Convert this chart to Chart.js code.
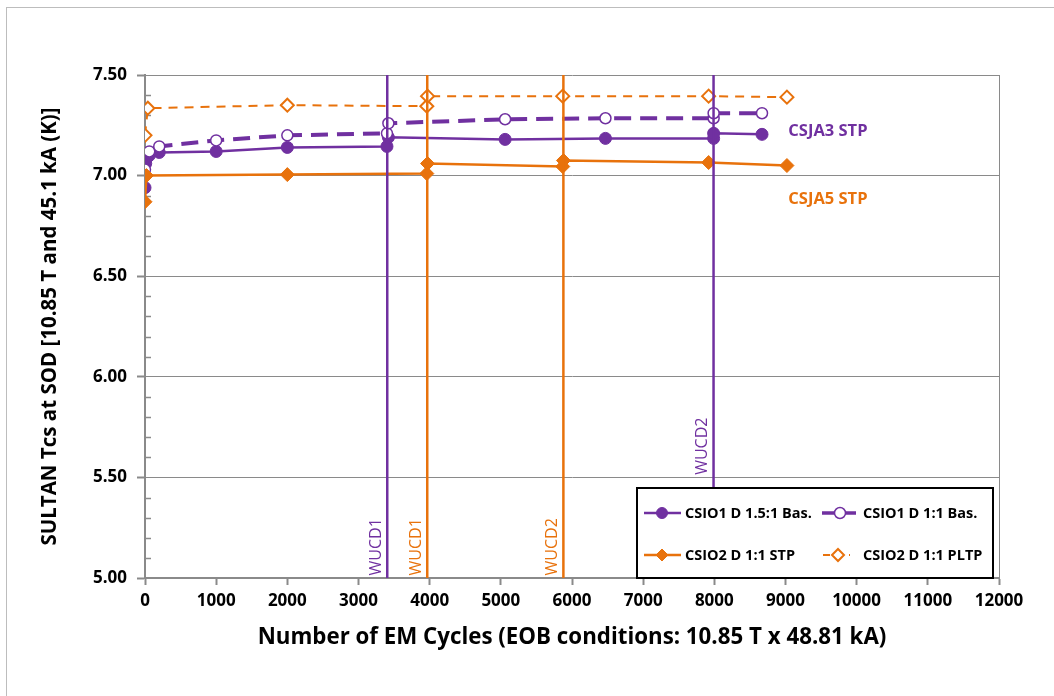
<!DOCTYPE html>
<html>
<head>
<meta charset="utf-8">
<script src="https://cdn.jsdelivr.net/npm/chart.js@4.4.1/dist/chart.umd.min.js"></script>
<style>
  html, body { margin: 0; padding: 0; background: #fff; }
  #wrap { width: 1054px; height: 696px; position: relative; }
</style>
</head>
<body>
<div id="wrap"><canvas id="myChart" width="1054" height="696"></canvas></div>
<script>
// CSIO1 D 1.5:1 Bas. (filled circles)
const csio1aCycles = [0, 10, 30, 60, 200, 1000, 2000, 3400, 3420, 5060, 6470, 7990, 7990, 8670];
const csio1aTcs = [6.94, 7.06, 7.09, 7.10, 7.115, 7.12, 7.14, 7.145, 7.19, 7.18, 7.185, 7.185, 7.21, 7.205];

// CSIO1 D 1:1 Bas. (open circles)
const csio1bCycles = [0, 60, 200, 1000, 2000, 3400, 3420, 5060, 6470, 7990, 7990, 8670];
const csio1bTcs = [7.03, 7.12, 7.145, 7.175, 7.20, 7.21, 7.26, 7.28, 7.285, 7.285, 7.31, 7.31];

// CSIO2 D 1:1 STP (filled diamonds)
const csio2aCycles = [0, 20, 2000, 3960, 3970, 5870, 5880, 7920, 9020];
const csio2aTcs = [6.87, 7.00, 7.005, 7.01, 7.06, 7.045, 7.075, 7.065, 7.05];

// CSIO2 D 1:1 PLTP (open diamonds)
const csio2bCycles = [0, 40, 2000, 3960, 3970, 5870, 7920, 9020];
const csio2bTcs = [7.20, 7.335, 7.35, 7.345, 7.395, 7.395, 7.395, 7.39];

// warm-up / cool-down markers
const wucdCycles = [3404, 3966, 5879, 7989];
const wucdNames = ['WUCD1', 'WUCD1', 'WUCD2', 'WUCD2'];
const wucdSample = ['CSIO1', 'CSIO2', 'CSIO2', 'CSIO1'];

const legendNames = ['CSIO1 D 1.5:1 Bas.', 'CSIO1 D 1:1 Bas.', 'CSIO2 D 1:1 STP', 'CSIO2 D 1:1 PLTP'];
const xTicks = [0, 1000, 2000, 3000, 4000, 5000, 6000, 7000, 8000, 9000, 10000, 11000, 12000];
const yTicks = [5.00, 5.50, 6.00, 6.50, 7.00, 7.50];

const PURPLE = '#7030A0';
const ORANGE = '#E8720C';
const AXIS = '#8a8a8a';
const FONT = '"Open Sans", Lato, sans-serif';

const toPoints = (xs, ys) => xs.map((x, i) => ({ x: x, y: ys[i] }));

const seriesSets = [
    {
        label: legendNames[0],
        data: toPoints(csio1aCycles, csio1aTcs),
        borderColor: PURPLE, backgroundColor: PURPLE,
        borderWidth: 2.5, pointStyle: 'circle', pointRadius: 6,
        pointBorderWidth: 1, pointBackgroundColor: PURPLE, order: 4
    },
    {
        label: legendNames[1],
        data: toPoints(csio1bCycles, csio1bTcs),
        borderColor: PURPLE, backgroundColor: '#fff',
        borderWidth: 4, borderDash: [17, 9], pointStyle: 'circle', pointRadius: 5.5,
        pointBorderWidth: 1.5, pointBackgroundColor: '#fff', order: 3
    },
    {
        label: legendNames[2],
        data: toPoints(csio2aCycles, csio2aTcs),
        borderColor: ORANGE, backgroundColor: ORANGE,
        borderWidth: 2.5, pointStyle: 'rectRot', pointRadius: 7,
        pointBorderWidth: 1, pointBackgroundColor: ORANGE, order: 2
    },
    {
        label: legendNames[3],
        data: toPoints(csio2bCycles, csio2bTcs),
        borderColor: ORANGE, backgroundColor: '#fff',
        borderWidth: 2, borderDash: [9, 7], pointStyle: 'rectRot', pointRadius: 6.5,
        pointBorderWidth: 2, pointBackgroundColor: '#fff', order: 1
    }
];

const wucdSets = wucdCycles.map((c, i) => ({
    label: wucdNames[i],
    data: [{ x: c, y: yTicks[0] }, { x: c, y: yTicks[yTicks.length - 1] }],
    borderColor: wucdSample[i] === 'CSIO1' ? PURPLE : ORANGE,
    borderWidth: 2.5, pointRadius: 0, order: 0
}));

// frame, minor ticks, labels and legend
const decorPlugin = {
    id: 'decor',
    beforeDraw(chart) {
        const ctx = chart.ctx;
        ctx.save();
        ctx.fillStyle = '#fff';
        ctx.fillRect(0, 0, chart.width, chart.height);
        ctx.strokeStyle = '#bdbdbd';
        ctx.lineWidth = 1;
        ctx.strokeRect(6.5, 7.5, chart.width + 10, chart.height + 10);
        ctx.restore();
    },
    beforeDatasetsDraw(chart) {
        const ctx = chart.ctx;
        const a = chart.chartArea;
        const y = chart.scales.y;
        ctx.save();
        ctx.strokeStyle = AXIS;
        ctx.lineWidth = 1;
        ctx.beginPath();
        ctx.moveTo(a.right + 0.5, a.top);
        ctx.lineTo(a.right + 0.5, a.bottom);
        ctx.stroke();
        // minor ticks every 0.1
        ctx.lineWidth = 1.5;
        for (let i = 51; i < 75; i++) {
            if (i % 5 === 0) continue;
            const py = Math.round(y.getPixelForValue(i / 10)) + 0.5;
            ctx.beginPath();
            ctx.moveTo(a.left, py);
            ctx.lineTo(a.left + 6, py);
            ctx.stroke();
        }
        ctx.restore();
    },
    afterDraw(chart) {
        const ctx = chart.ctx;
        const xs = chart.scales.x, ys = chart.scales.y;
        ctx.save();

        // WUCD labels
        ctx.font = '16px ' + FONT;
        ctx.textAlign = 'center';
        ctx.textBaseline = 'middle';
        wucdCycles.forEach((c, i) => {
            const px = xs.getPixelForValue(c) - 11;
            const py = i === 3 ? ys.getPixelForValue(5.655) : ys.getPixelForValue(5.155);
            ctx.save();
            ctx.translate(px, py);
            ctx.rotate(-Math.PI / 2);
            ctx.fillStyle = wucdSample[i] === 'CSIO1' ? PURPLE : ORANGE;
            ctx.fillText(wucdNames[i], 0, 0);
            ctx.restore();
        });

        // sample annotations
        ctx.font = 'bold 16.5px ' + FONT;
        ctx.textAlign = 'left';
        ctx.fillStyle = PURPLE;
        ctx.fillText('CSJA3 STP', xs.getPixelForValue(9040), ys.getPixelForValue(7.222));
        ctx.fillStyle = ORANGE;
        ctx.fillText('CSJA5 STP', xs.getPixelForValue(9040), ys.getPixelForValue(6.884));

        // legend box
        const bx = 637, by = 488, bw = 356, bh = 90;
        ctx.fillStyle = '#fff';
        ctx.fillRect(bx, by, bw, bh);
        ctx.strokeStyle = '#000';
        ctx.lineWidth = 2;
        ctx.strokeRect(bx, by, bw, bh);

        const slots = [
            { x0: 644, x1: 681, mx: 662, tx: 685, y: 513 },
            { x0: 822, x1: 860, mx: 840, tx: 863, y: 513 },
            { x0: 644, x1: 681, mx: 662, tx: 685, y: 555 },
            { x0: 823, x1: 850, mx: 838, tx: 863, y: 555 }
        ];
        seriesSets.forEach((ds, i) => {
            const s = slots[i];
            ctx.save();
            ctx.strokeStyle = ds.borderColor;
            ctx.lineWidth = Math.min(ds.borderWidth, 3.5);
            if (i === 1) ctx.setLineDash([14, 6]);
            if (i === 3) ctx.setLineDash([7, 6]);
            ctx.beginPath();
            ctx.moveTo(s.x0, s.y);
            ctx.lineTo(s.x1, s.y);
            ctx.stroke();
            ctx.setLineDash([]);
            ctx.fillStyle = ds.pointBackgroundColor;
            ctx.lineWidth = ds.pointBorderWidth;
            const r = ds.pointStyle === 'circle' ? 5.5 : 6;
            Chart.helpers.drawPoint(ctx, { pointStyle: ds.pointStyle, radius: r, borderWidth: ds.pointBorderWidth, rotation: 0 }, s.mx, s.y);
            ctx.restore();
            ctx.fillStyle = '#000';
            ctx.font = 'bold 14.5px ' + FONT;
            ctx.textBaseline = 'middle';
            ctx.fillText(ds.label, s.tx, s.y + 1);
        });
        ctx.restore();
    }
};

const ctx = document.getElementById('myChart').getContext('2d');
const chart = new Chart(ctx, {
    type: 'scatter',
    data: { datasets: wucdSets.concat(seriesSets) },
    options: {
        responsive: false,
        animation: false,
        showLine: true,
        layout: { padding: { top: 75, right: 55, left: 0, bottom: 0 } },
        plugins: {
            legend: { display: false },
            tooltip: { enabled: false }
        },
        elements: { line: { tension: 0 } },
        scales: {
            x: {
                type: 'linear',
                min: 0, max: 12000,
                afterFit(scale) { scale.height = 118; },
                afterBuildTicks(scale) { scale.ticks = xTicks.map(v => ({ value: v })); },
                ticks: {
                    color: '#000',
                    font: { family: FONT, size: 17, weight: 'bold' },
                    padding: 6,
                    maxRotation: 0,
                    autoSkip: false,
                    callback: v => String(v)
                },
                grid: { drawOnChartArea: false, drawTicks: true, tickLength: 7, tickColor: AXIS, tickWidth: 2 },
                border: { display: true, color: AXIS, width: 2 },
                title: {
                    display: true,
                    text: 'Number of EM Cycles (EOB conditions: 10.85 T x 48.81 kA)',
                    color: '#000',
                    font: { family: FONT, size: 22.3, weight: 'bold' },
                    padding: { top: 0, bottom: 45 }
                }
            },
            y: {
                type: 'linear',
                min: 5, max: 7.5,
                afterFit(scale) { scale.width = 145; },
                afterBuildTicks(scale) { scale.ticks = yTicks.map(v => ({ value: v })); },
                ticks: {
                    color: '#000',
                    font: { family: FONT, size: 17, weight: 'bold' },
                    padding: 10,
                    callback: v => v.toFixed(2)
                },
                grid: { color: AXIS, lineWidth: 1, drawTicks: true, tickLength: 8, tickColor: AXIS, tickWidth: 2 },
                border: { display: true, color: AXIS, width: 2 },
                title: {
                    display: true,
                    text: 'SULTAN Tcs at SOD [10.85 T and 45.1 kA (K)]',
                    color: '#000',
                    font: { family: FONT, size: 20.5, weight: 'bold' },
                    padding: { top: 38, bottom: 0 }
                }
            }
        }
    },
    plugins: [decorPlugin]
});
</script>
</body>
</html>
